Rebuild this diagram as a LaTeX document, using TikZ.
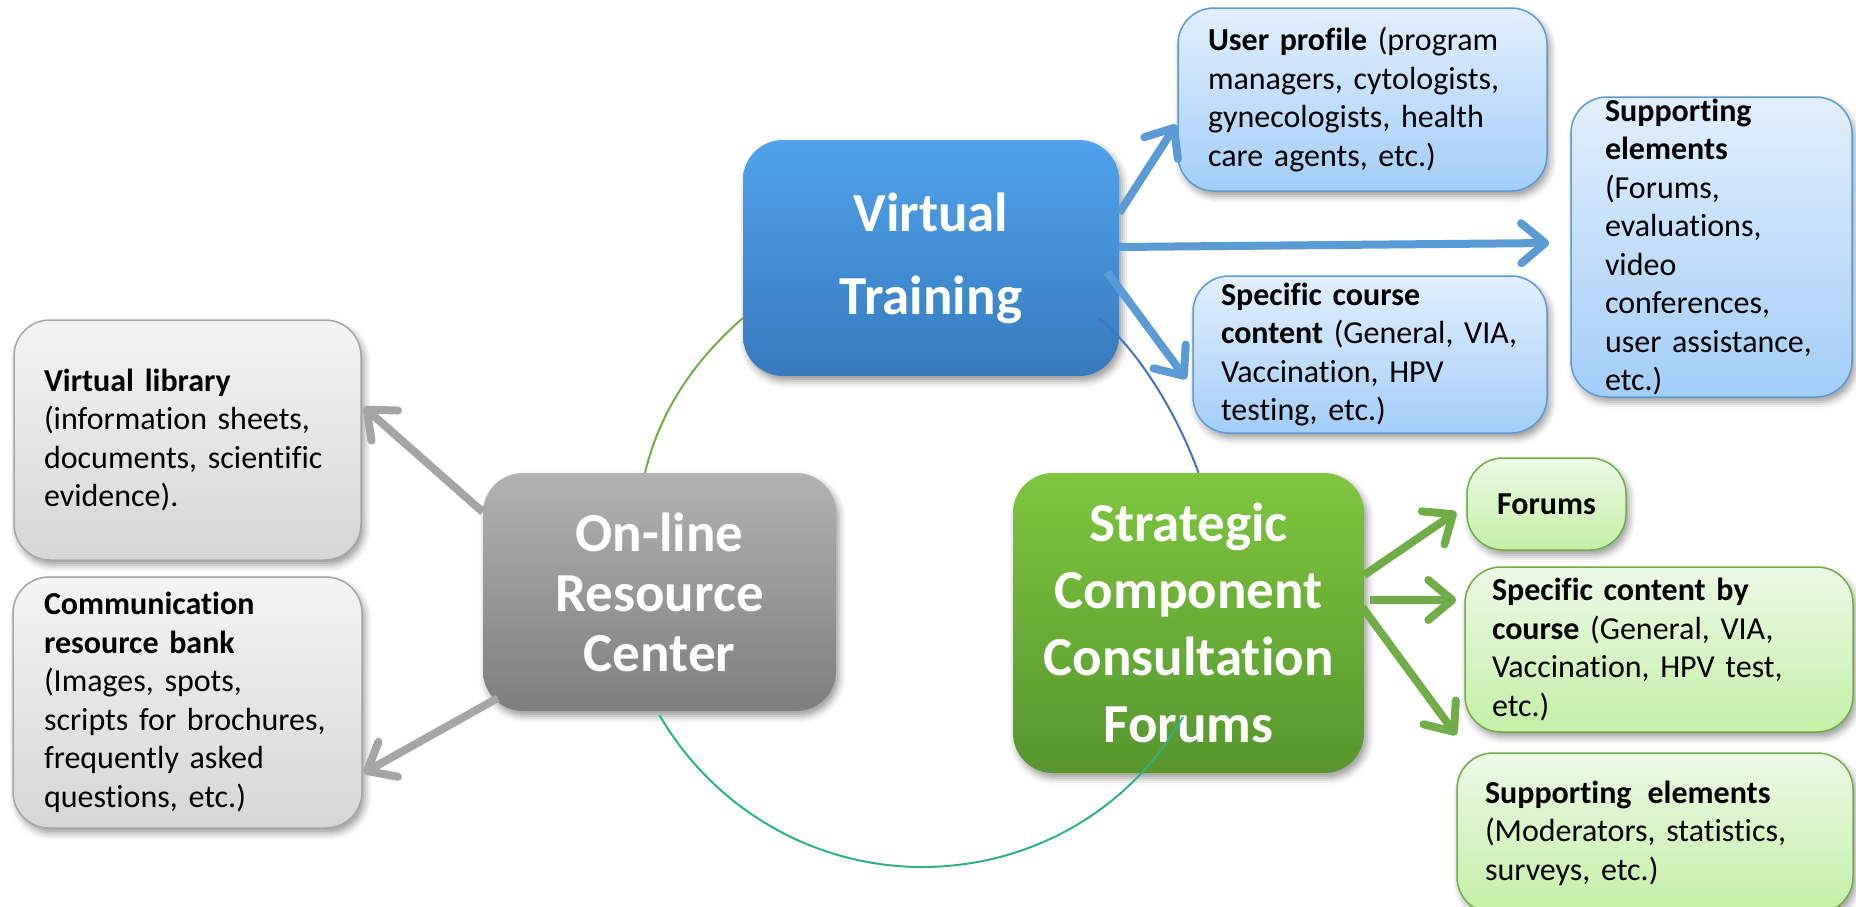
\documentclass[tikz,border=0pt]{standalone}
\usepackage{fontspec}
\setmainfont{Carlito}[Ligatures=NoCommon,WordSpace=0.75]
\usetikzlibrary{arrows.meta,shadows.blur,calc}
\definecolor{vtT}{RGB}{80,162,236}
\definecolor{vtB}{RGB}{56,122,188}
\definecolor{orT}{RGB}{178,178,178}
\definecolor{orB}{RGB}{126,126,126}
\definecolor{scT}{RGB}{126,198,62}
\definecolor{scB}{RGB}{86,150,46}
\definecolor{sbT}{RGB}{226,239,253}
\definecolor{sbB}{RGB}{162,206,250}
\definecolor{sbD}{RGB}{91,155,213}
\definecolor{sgT}{RGB}{244,244,244}
\definecolor{sgB}{RGB}{214,214,214}
\definecolor{sgD}{RGB}{165,165,165}
\definecolor{snT}{RGB}{236,249,229}
\definecolor{snB}{RGB}{196,240,166}
\definecolor{snD}{RGB}{112,173,71}
\definecolor{arcG}{RGB}{112,173,71}
\definecolor{arcB}{RGB}{68,114,196}
\definecolor{arcT}{RGB}{46,178,128}
\begin{document}
\begin{tikzpicture}[x=1pt,y=-1pt,
  shad/.style={blur shadow={shadow xshift=3pt,shadow yshift=-5pt,shadow blur radius=7pt,shadow opacity=40}},
  bigbox/.style={shad,rounded corners=40pt,inner sep=0pt,text=white,align=center},
  smallbox/.style={shad,rounded corners=36pt,inner sep=0pt,align=left,line width=1.5pt,
    font=\fontsize{32pt}{38.5pt}\selectfont},
  sblue/.style={smallbox,draw=sbD,top color=sbT,bottom color=sbB},
  sgray/.style={smallbox,draw=sgD,top color=sgT,bottom color=sgB},
  sgreen/.style={smallbox,draw=snD,top color=snT,bottom color=snB},
  arr/.style={line width=8pt,-{Straight Barb[length=24pt,width=40pt,round]}},
  thinarc/.style={line width=2pt}
]
\useasboundingbox (0,0) rectangle (1856,906);
\begin{scope}
\clip (0,0) rectangle (1856,906);
% main nodes
\node[bigbox,top color=vtT,bottom color=vtB,minimum width=376pt,minimum height=236pt,
  font=\bfseries\fontsize{55pt}{83pt}\selectfont] (vt) at (931,258) {Virtual\\Training};
\node[bigbox,top color=orT,bottom color=orB,minimum width=353pt,minimum height=238pt,
  font=\bfseries\fontsize{55pt}{60pt}\selectfont] (orc) at (659.5,592) {On-line\\Resource\\Center};
\node[bigbox,top color=scT,bottom color=scB,minimum width=351pt,minimum height=300pt,
  font=\bfseries\fontsize{55pt}{67pt}\selectfont] (sc) at (1188.5,623) {Strategic\\Component\\Consultation\\Forums};
% blue boxes
\node[sblue,minimum width=369pt,minimum height=183pt,text width=309pt] (up) at (1362.5,99.5)
  {\textbf{User profile} (program\\managers, cytologists,\\gynecologists, health\\care agents, etc.)};
\node[sblue,minimum width=281pt,minimum height=300pt,text width=213pt] (sb) at (1711.5,247)
  {\textbf{Supporting}\\\textbf{elements}\\(Forums,\\evaluations,\\video\\conferences,\\user assistance,\\etc.)};
\node[sblue,minimum width=354pt,minimum height=157pt,text width=298pt] (scc) at (1370,354.5)
  {\textbf{Specific course}\\\textbf{content} (General, VIA,\\Vaccination, HPV\\testing, etc.)};
% gray boxes
\node[sgray,minimum width=347pt,minimum height=240pt,text width=287pt] (vl) at (187.5,440)
  {\textbf{Virtual library}\\(information sheets,\\documents, scientific\\evidence).};
\node[sgray,minimum width=349pt,minimum height=251pt,text width=287pt] (cb) at (187.5,702.5)
  {\textbf{Communication}\\\textbf{resource bank}\\(Images, spots,\\scripts for brochures,\\frequently asked\\questions, etc.)};
% green boxes
\node[sgreen,minimum width=159pt,minimum height=92pt,text width=99pt] (fo) at (1546.5,504)
  {\textbf{Forums}};
\node[sgreen,minimum width=388pt,minimum height=165pt,text width=334pt] (scb) at (1659,649.5)
  {\textbf{Specific content by}\\\textbf{course} (General, VIA,\\Vaccination, HPV test,\\etc.)};
\node[sgreen,minimum width=396pt,minimum height=160pt,text width=340pt] (sg) at (1655,833)
  {\textbf{Supporting\enspace elements}\\(Moderators, statistics,\\surveys, etc.)};
% arrows
\draw[arr,draw=sbD] ([yshift=45pt]vt.east) -- ([xshift=-1pt,yshift=-25pt]up.west);
\draw[arr,draw=sbD] ([yshift=11pt]vt.east) -- ([xshift=-21pt,yshift=4pt]sb.west);
\draw[arr,draw=sbD] ([xshift=-12pt,yshift=-14pt]vt.east) -- ([xshift=-6pt,yshift=-24.5pt]scc.west);
\draw[arr,draw=sgD] ([yshift=80pt]orc.west) -- ([xshift=2pt,yshift=33pt]vl.east);
\draw[arr,draw=sgD] ([xshift=15pt,yshift=-106pt]orc.west) -- ([xshift=1pt,yshift=-70.5pt]cb.east);
\draw[arr,draw=snD] ([yshift=48pt]sc.east) -- ([xshift=-10pt,yshift=-8pt]fo.west);
\draw[arr,draw=snD] ([xshift=6pt,yshift=23pt]sc.east) -- ([xshift=-8pt,yshift=49.5pt]scb.west);
\draw[arr,draw=snD] ([xshift=-2pt,yshift=16pt]sc.east) -- ([xshift=0pt,yshift=98pt]sg.west);
% cycle arcs
\coordinate (tb) at (922,867);
\draw[thinarc,draw=arcG] ([xshift=-14.5pt]orc.north) .. controls (660,410) and (695,360) .. ([yshift=-60pt]vt.west);
\draw[thinarc,draw=arcB] ([xshift=-21pt,yshift=-60pt]vt.east) .. controls (1128,340) and (1172,400) .. ([xshift=10pt]sc.north);
\draw[thinarc,draw=arcT] ([yshift=-4pt]orc.south) .. controls (714,809) and (814,867) .. (tb)
  .. controls (1030,867) and (1129,811) .. ([xshift=-5.5pt,yshift=-94pt]sc.center);
\end{scope}
\end{tikzpicture}
\end{document}
